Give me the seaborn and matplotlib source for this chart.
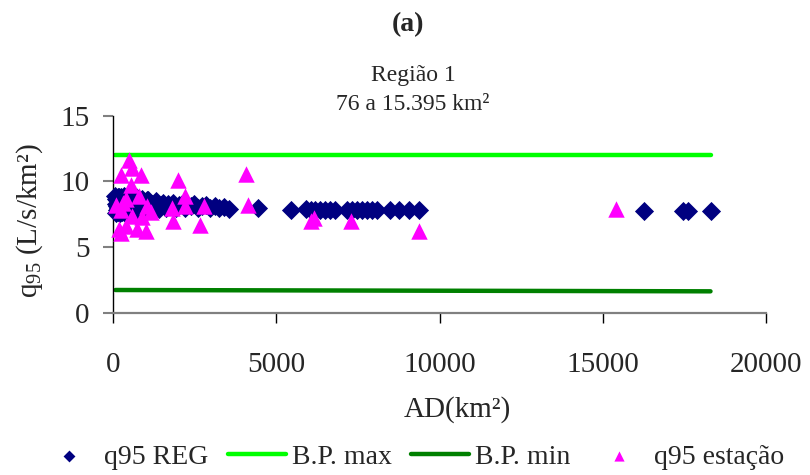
import matplotlib
matplotlib.use("Agg")
import matplotlib.pyplot as plt
import seaborn as sns
import pandas as pd

# ---------------- data ----------------
reg_area = [76, 80, 90, 100, 110, 120, 130, 140, 150, 160, 170, 180, 190, 200, 210,
            230, 250, 260, 280, 290, 310, 330, 340, 360, 370, 400, 420,
            430, 460, 480, 500, 530, 550, 570, 610, 630, 650, 690, 710, 730, 770, 800,
            820, 870, 900, 920, 970, 1000, 1020, 1050,
            1080, 1140, 1200, 1260, 1330, 1400, 1470, 1540, 1610, 1690, 1770, 1850, 1930,
            2010, 2100, 2190, 2280, 2380, 2480, 2600, 2720, 2850, 2980, 3120, 3250, 3400,
            3550, 4450, 5450, 5900, 6050, 6200, 6350, 6500, 6650, 6800, 7170, 7320, 7480,
            7630, 7780, 7930, 8080, 8480, 8750, 9060, 9360, 16250, 17450, 17600, 18300]
reg_q95 = [8.9, 7.6, 8.3, 8.7, 7.8, 8.1, 8.6, 7.7, 8.0, 8.8, 7.7, 8.4, 8.8, 7.6, 8.2,
           7.9, 8.8, 8.5, 7.7, 8.7, 7.8, 8.9, 8.1, 7.6, 8.4, 7.7, 8.8,
           8.6, 8.0, 7.6, 8.3, 7.8, 8.8, 8.7, 8.1, 7.6, 7.9, 8.4, 8.8, 8.6, 7.8, 7.7,
           8.2, 8.5, 8.7, 7.9, 8.3, 7.7, 8.0, 8.6,
           8.6, 7.9, 8.3, 8.1, 8.5, 7.9, 8.2, 8.4, 8.0, 8.3, 8.1, 8.4, 8.0,
           8.2, 8.3, 8.0, 8.2, 8.1, 8.3, 8.0, 8.1, 8.2, 8.0, 8.1, 7.95, 8.05,
           7.9, 8.0, 7.85, 7.9, 7.85, 7.85, 7.8, 7.8, 7.8, 7.8, 7.8, 7.8, 7.8,
           7.8, 7.8, 7.8, 7.8, 7.8, 7.8, 7.8, 7.8, 7.75, 7.75, 7.75, 7.75]

bp_area = [76, 18300]
bp_max = [12.0, 12.0]
bp_min = [1.75, 1.65]

est_area = [480, 580, 240, 850, 550, 2000, 4070, 400, 790, 2200, 100, 1030, 1800,
            2200, 2800, 4130, 240, 580, 880, 1850, 2680, 180, 400, 730, 1000, 240,
            6170, 6050, 7300, 9360, 15395, 320, 1150]
est_q95 = [11.6, 11.0, 10.5, 10.5, 9.7, 10.1, 10.6, 8.7, 8.9, 8.9, 8.2, 8.1, 8.0,
           8.1, 8.1, 8.2, 7.8, 7.4, 7.3, 7.0, 6.7, 6.4, 6.6, 6.4, 6.2, 6.1,
           7.2, 7.0, 7.0, 6.2, 7.9, 8.4, 7.7]

x_ticks = [0, 5000, 10000, 15000, 20000]
x_tick_labels = ["0", "5000", "10000", "15000", "20000"]
y_ticks = [0, 5, 10, 15]
y_tick_labels = ["0", "5", "10", "15"]

# ---------------- style ----------------
sns.set_style("white")
plt.rcParams["font.family"] = ["Liberation Serif", "DejaVu Serif"]
plt.rcParams["mathtext.fontset"] = "custom"
plt.rcParams["mathtext.rm"] = "Liberation Serif"
plt.rcParams["mathtext.it"] = "Liberation Serif:italic"

df_reg = pd.DataFrame({"AD": reg_area, "q95": reg_q95})
df_bp = pd.DataFrame({"AD": bp_area, "max": bp_max, "min": bp_min})
df_est = pd.DataFrame({"AD": est_area, "q95": est_q95})

fig = plt.figure(figsize=(8.1, 4.75), dpi=100)
ax = fig.add_axes([0.1395, 0.341, 0.8062, 0.4154])

sns.scatterplot(data=df_reg, x="AD", y="q95", ax=ax, marker="D", s=95,
                color="#000080", linewidth=0, label="q95 REG", clip_on=False, zorder=3)
sns.lineplot(data=df_bp, x="AD", y="max", ax=ax, color="#00FF00", linewidth=3.2,
             label="B.P. max", zorder=2)
sns.lineplot(data=df_bp, x="AD", y="min", ax=ax, color="#008000", linewidth=3.2,
             label="B.P. min", zorder=2)
sns.scatterplot(data=df_est, x="AD", y="q95", ax=ax, marker="^", s=140,
                color="#FF00FF", linewidth=0, label="q95 estação", clip_on=False, zorder=4)

ax.set_xlim(0, 20000)
ax.set_ylim(0, 15)
ax.set_xticks(x_ticks)
ax.set_xticklabels(x_tick_labels)
ax.set_yticks(y_ticks)
ax.set_yticklabels(y_tick_labels)

for s in ["top", "right"]:
    ax.spines[s].set_visible(False)
ax.spines["left"].set_color("black")
ax.spines["left"].set_linewidth(1.0)
ax.spines["bottom"].set_color("#808080")
ax.spines["bottom"].set_linewidth(1.6)

ax.tick_params(axis="x", direction="out", length=7, width=1, color="black",
               pad=21, labelsize=21, bottom=True)
ax.tick_params(axis="y", direction="out", length=7, width=1.5, color="#808080",
               pad=10, labelsize=21, left=True)

ax.set_xlabel("AD(km²)", fontsize=21)
ax.xaxis.label.set_va("center")
ax.xaxis.set_label_coords(0.528, -0.49)
ax.set_ylabel("q$_{\\mathrm{95}}$ (L/s/km²)", fontsize=21)
ax.yaxis.label.set_va("center")
ax.yaxis.set_label_coords(-0.127, 0.47)

fig.text(408 / 810, 1 - 25 / 475, "(a)", ha="center", va="center",
         fontsize=20, fontweight="bold")
fig.text(413 / 810, 1 - 75 / 475, "Região 1", ha="center", va="center", fontsize=17)
fig.text(413 / 810, 1 - 104 / 475, "76 a 15.395 km²", ha="center", va="center", fontsize=17)

handles, labels = ax.get_legend_handles_labels()
order = ["q95 REG", "B.P. max", "B.P. min", "q95 estação"]
hmap = dict(zip(labels, handles))
ax.get_legend().remove()
fig.legend([hmap[k] for k in order], order, loc="center",
           bbox_to_anchor=(412 / 810, 1 - 457 / 475), ncol=4, frameon=False,
           fontsize=20, handlelength=2.1, handletextpad=0.2, columnspacing=0.7,
           markerscale=0.62)

fig.savefig("out.png", dpi=100)
